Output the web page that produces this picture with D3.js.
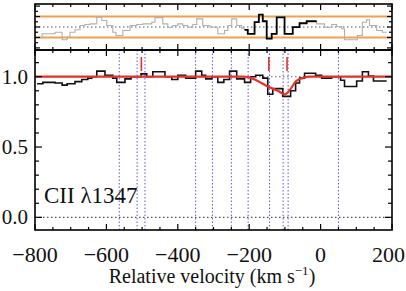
<!DOCTYPE html>
<html><head><meta charset="utf-8">
<script src="https://cdn.jsdelivr.net/npm/d3@7"></script>
<style>body{margin:0;background:#fff}svg{display:block}</style>
</head><body>
<svg id="c" width="406" height="291"></svg>
<script>
// ---- data ----
const velocityBins = [-794,-778,-744,-724,-710,-688,-669,-652,-641,-627,-604,-582,-571,-548,-531,-503,-487,-470,-436,-417,-400,-378,-350,-333,-322,-305,-288,-271,-255,-235,-213,-196,-182,-162,-148,-134,-106,-84,-70,-59,-45,-14,3,31,56,67,101,117,134,148,185];
const fluxValues  = [0.95,0.96,0.955,0.94,0.95,0.965,0.98,0.99,1.0,1.04,1.01,0.99,0.96,0.985,1.0,1.02,1.0,1.035,1.0,0.98,1.01,0.99,1.04,1.01,0.985,1.0,0.96,0.98,1.04,0.985,0.96,1.0,1.01,0.99,0.875,0.915,0.86,0.90,0.955,0.99,1.025,1.01,0.99,1.0,0.975,0.93,0.97,1.035,1.005,0.97,0.97];
const modelVelocity = [-800,-220,-200,-176,-148,-120,-100,-85,-68,-50,-31,-15,200];
const modelFlux     = [1.0,1.0,0.995,0.97,0.93,0.90,0.875,0.91,0.97,0.99,1.0,1.0,1.0];
const residVelocity = [-794,-780,-744,-724,-710,-702,-688,-674,-660,-646,-627,-613,-599,-582,-573,-554,-534,-515,-498,-473,-464,-442,-428,-414,-400,-386,-372,-358,-347,-330,-310,-288,-269,-260,-249,-235,-221,-213,-204,-185,-173,-162,-151,-137,-123,-101,-78,-59,-39,-11,11,31,45,59,67,103,117,129,137,157,173,185];
const residValues   = [-1.03,-0.65,-0.5,-1.22,-0.97,-0.5,-0.27,0.14,0.24,0.3,0.93,0.62,0.14,-0.5,-0.81,-0.33,0.14,0.24,0.3,0.46,0.9,0.3,-0.02,0.14,0.3,0.14,-0.02,0.24,0.78,0.14,-0.02,-0.65,-0.33,0.14,0.78,0.14,-0.17,-0.27,-0.65,0.46,1.19,0.55,-1.12,-0.65,0.93,-0.65,-0.02,0.36,0.55,0.3,-0.02,0.24,0.05,-0.17,-1.22,-0.81,0.46,0.69,0.14,-0.33,-0.5,-0.5];
const fitRegion = [-213, -11];
const componentVelocities = [-564,-514,-492,-350,-303,-250,-203,-143,-105,-91,50];
const redTickVelocities = [-502,-145,-94];
const xTicks = [-800,-600,-400,-200,0,200];
const yTicks = [0.0,0.5,1.0];
const lineLabel = "CII \u03bb1347";

// ---- layout ----
const svg = d3.select("#c");
const W = 406;
const L = 35, R = 392, topT = 4, mainT = 50, mainB = 230;
const x = d3.scaleLinear().domain([-800,200]).range([L,R]);
const y = d3.scaleLinear().domain([-0.09,1.19]).range([mainB,mainT]);
const yr = d3.scaleLinear().domain([-2.2,2.2]).range([mainT,topT]);
const font = "'Liberation Serif','DejaVu Serif','Times New Roman',serif";

// top panel: residuals
const stepLine = (ys) => d3.line().x(d=>x(d[0])).y(d=>ys(d[1])).curve(d3.curveStepAfter);
const rPts = residVelocity.map((v,i)=>[v,residValues[i]]);
svg.append("line").attr("x1",L).attr("x2",R).attr("y1",yr(1)).attr("y2",yr(1)).attr("stroke","#f3a04c").attr("stroke-width",2);
svg.append("line").attr("x1",L).attr("x2",R).attr("y1",yr(-1)).attr("y2",yr(-1)).attr("stroke","#f3a04c").attr("stroke-width",2);
svg.append("line").attr("x1",L).attr("x2",R).attr("y1",yr(0)).attr("y2",yr(0)).attr("stroke","#555").attr("stroke-width",1.2).attr("stroke-dasharray","1.5,2.5");
svg.append("path").attr("d",stepLine(yr)(rPts)).attr("fill","none").attr("stroke","#b0b0b0").attr("stroke-width",1.1);
const fitPts = rPts.filter(d=>d[0]>=fitRegion[0] && d[0]<fitRegion[1]);
fitPts.push([fitRegion[1], fitPts[fitPts.length-1][1]]);
svg.append("path").attr("d",stepLine(yr)(fitPts)).attr("fill","none").attr("stroke","#000").attr("stroke-width",1.8);

// main panel
svg.append("line").attr("x1",L).attr("x2",R).attr("y1",y(0)).attr("y2",y(0)).attr("stroke","#555").attr("stroke-width",1.2).attr("stroke-dasharray","1.5,2.5");
svg.append("line").attr("x1",L).attr("x2",R).attr("y1",y(1)).attr("y2",y(1)).attr("stroke","#888").attr("stroke-width",1.2).attr("stroke-dasharray","1.5,2.5");
svg.selectAll(".comp").data(componentVelocities).join("line")
  .attr("x1",d=>x(d)).attr("x2",d=>x(d)).attr("y1",mainT).attr("y2",mainB)
  .attr("stroke","#5a5ae0").attr("stroke-width",1).attr("stroke-dasharray","1.5,2");
const fPts = velocityBins.map((v,i)=>[v,fluxValues[i]]);
svg.append("path").attr("d",stepLine(y)(fPts)).attr("fill","none").attr("stroke","#111").attr("stroke-width",1.6);
svg.append("path").attr("d",d3.line().x(d=>x(d[0])).y(d=>y(d[1])).curve(d3.curveMonotoneX)(modelVelocity.map((v,i)=>[v,modelFlux[i]])))
  .attr("fill","none").attr("stroke","#e8302a").attr("stroke-width",2.2);
svg.selectAll(".rt").data(redTickVelocities).join("line")
  .attr("x1",d=>x(d)).attr("x2",d=>x(d)).attr("y1",y(1.14)).attr("y2",y(1.04))
  .attr("stroke","#e8302a").attr("stroke-width",1.6);

// frames + ticks
function frame(t,b){
  svg.append("rect").attr("x",L).attr("y",t).attr("width",R-L).attr("height",b-t).attr("fill","none").attr("stroke","#000").attr("stroke-width",1.6);
}
frame(topT,mainT); frame(mainT,mainB);
const g = svg.append("g").attr("stroke","#000").attr("stroke-width",1.2);
function xt(t,b){
  d3.range(-800,201,50).forEach(v=>{
    const len = v%200===0?6:3;
    g.append("line").attr("x1",x(v)).attr("x2",x(v)).attr("y1",b).attr("y2",b-len);
    g.append("line").attr("x1",x(v)).attr("x2",x(v)).attr("y1",t).attr("y2",t+len);
  });
}
xt(topT,mainT); xt(mainT,mainB);
d3.range(-0.05,1.2,0.1).map(v=>Math.round(v*10)/10).filter(v=>v>=-0.05&&v<=1.15).forEach(v=>{
  const len = (Math.round(v*10)%5===0)?7:4;
  g.append("line").attr("x1",L).attr("x2",L+len).attr("y1",y(v)).attr("y2",y(v));
  g.append("line").attr("x1",R).attr("x2",R-len).attr("y1",y(v)).attr("y2",y(v));
});
[-2,-1.5,-1,-0.5,0,0.5,1,1.5,2].forEach(v=>{
  const len = Number.isInteger(v)?5:3;
  g.append("line").attr("x1",L).attr("x2",L+len).attr("y1",yr(v)).attr("y2",yr(v));
  g.append("line").attr("x1",R).attr("x2",R-len).attr("y1",yr(v)).attr("y2",yr(v));
});

// text
svg.selectAll(".xl").data(xTicks).join("text")
  .attr("x",d=>d===200?W-1:x(d)).attr("y",262)
  .attr("text-anchor",d=>d===200?"end":"middle")
  .attr("font-family",font).attr("font-size",22).attr("fill","#111")
  .text(d=>d<0?"\u2212"+Math.abs(d):d);
svg.selectAll(".yl").data(yTicks).join("text")
  .attr("x",28).attr("y",d=>y(d)+7).attr("text-anchor","end")
  .attr("font-family",font).attr("font-size",21).attr("fill","#111")
  .text(d=>d.toFixed(1));
svg.append("text").attr("x",44).attr("y",203).attr("font-family",font).attr("font-size",23).attr("fill","#111").text(lineLabel);
const xt2 = svg.append("text").attr("x",212).attr("y",283).attr("text-anchor","middle")
  .attr("font-family",font).attr("font-size",20).attr("fill","#111");
xt2.append("tspan").text("Relative velocity (km s");
xt2.append("tspan").attr("font-size",13).attr("dy",-8).text("\u22121");
xt2.append("tspan").attr("dy",8).text(")");
</script>
</body></html>
